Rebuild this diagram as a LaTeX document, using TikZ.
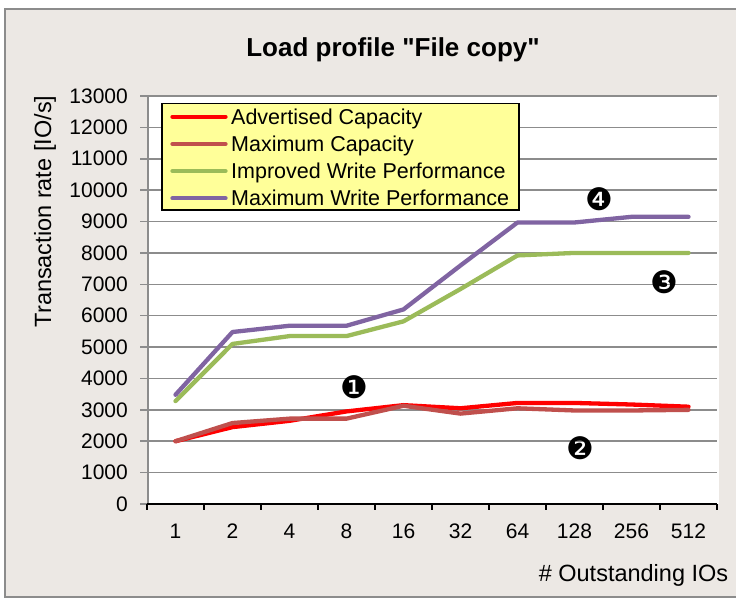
\documentclass[tikz,border=0pt]{standalone}
\usepackage{fontspec}
\setmainfont{Liberation Sans}
\newfontfamily\dingfont{DejaVu Sans}
\definecolor{chartbg}{HTML}{ECE8E4}
\definecolor{framegrey}{HTML}{8C8C8C}
\definecolor{gridgrey}{HTML}{8C8C8C}
\definecolor{legendyellow}{HTML}{FFFF99}
\definecolor{advred}{HTML}{FF0000}
\definecolor{maxbrown}{HTML}{C0504D}
\definecolor{impgreen}{HTML}{9BBB59}
\definecolor{maxpurple}{HTML}{8064A2}
\begin{document}
\begin{tikzpicture}[x=1pt,y=-1pt,
  gridline/.style={draw=gridgrey,line width=1.5pt},
  series/.style={line width=4.3pt,line cap=round,line join=round},
  ticklab/.style={font=\fontsize{21}{21}\selectfont,inner sep=0pt},
  axistitle/.style={font=\fontsize{23.5}{23.5}\selectfont,inner sep=0pt},
  legtext/.style={font=\fontsize{21.5}{21.5}\selectfont,inner sep=0pt,anchor=base west},
  marker/.style={font=\dingfont\fontsize{31}{31}\selectfont,inner sep=0pt}]
\useasboundingbox (0,0) rectangle (736,599);
\fill[white] (0,0) rectangle (736,599);
% chart frame
\draw[fill=chartbg,draw=framegrey,line width=2pt] (5,9) rectangle (760,597);
% plot area and horizontal grid
\fill[white] (148,96) rectangle (719,504);
\foreach \k in {0,...,13}
  \draw[gridline] (140,{504-\k*408/13}) -- (717,{504-\k*408/13});
% axes
\draw[draw=gridgrey,line width=1.5pt] (148,96) -- (148,504);
\draw[black,line width=1.5pt] (147,504) -- (717,504);
\foreach \i in {0,...,10}
  \draw[black,line width=1.5pt] ({147+57*\i},504) -- ++(0,6);
% tick labels
\foreach \v [count=\k from 0] in {0,1000,...,13000}
  \node[ticklab,anchor=east] (ylab\k) at (128,{504-\k*408/13}) {\v};
\foreach \t [count=\i from 0] in {1,2,4,8,16,32,64,128,256,512}
  \node[ticklab] (xlab\i) at ({175.5+57*\i},531) {\t};
% titles
\node[font=\bfseries\fontsize{26}{26}\selectfont,inner sep=0pt,anchor=base] (title) at (393,56.7) {Load profile \textquotedbl File copy\textquotedbl};
\node[axistitle,rotate=90,anchor=base] (ytitle) at (51,211.5) {Transaction rate [IO/s]};
\node[axistitle,anchor=base] (xtitle) at (633.5,581.5) {\# Outstanding IOs};
% data series
\begin{scope}[shift={(147,504)},x=57pt,y=31.3846pt]
  \draw[series,advred] (0.5,2.00) -- (1.5,2.45) -- (2.5,2.65) -- (3.5,2.95) -- (4.5,3.15)
    -- (5.5,3.05) -- (6.5,3.22) -- (7.5,3.22) -- (8.5,3.17) -- (9.5,3.10);
  \draw[series,maxbrown] (0.5,2.00) -- (1.5,2.58) -- (2.5,2.72) -- (3.5,2.72) -- (4.5,3.13)
    -- (5.5,2.88) -- (6.5,3.05) -- (7.5,2.98) -- (8.5,2.98) -- (9.5,3.00);
  \draw[series,impgreen] (0.5,3.28) -- (1.5,5.10) -- (2.5,5.35) -- (3.5,5.35) -- (4.5,5.82)
    -- (5.5,6.85) -- (6.5,7.92) -- (7.5,8.00) -- (8.5,8.00) -- (9.5,8.00);
  \draw[series,maxpurple] (0.5,3.48) -- (1.5,5.48) -- (2.5,5.68) -- (3.5,5.68) -- (4.5,6.20)
    -- (5.5,7.60) -- (6.5,8.97) -- (7.5,8.97) -- (8.5,9.15) -- (9.5,9.15);
\end{scope}
% numbered markers
\node[marker] (m1) at (354.5,387.5) {❶};
\node[marker] (m2) at (580.5,448.5) {❷};
\node[marker] (m3) at (664,282.7) {❸};
\node[marker] (m4) at (599,199.3) {❹};
% legend
\draw[fill=legendyellow,line width=1.5pt] (162,103.5) rectangle (519,210);
\foreach \c/\txt [count=\r from 0] in {advred/Advertised Capacity,maxbrown/Maximum Capacity,impgreen/Improved Write Performance,maxpurple/Maximum Write Performance}{
  \draw[series,\c] (172.5,{116.7+27.2*\r}) -- (225.5,{116.7+27.2*\r});
  \node[legtext] (legtext\r) at (231,{124.3+27.2*\r}) {\txt};
}
\end{tikzpicture}
\end{document}
